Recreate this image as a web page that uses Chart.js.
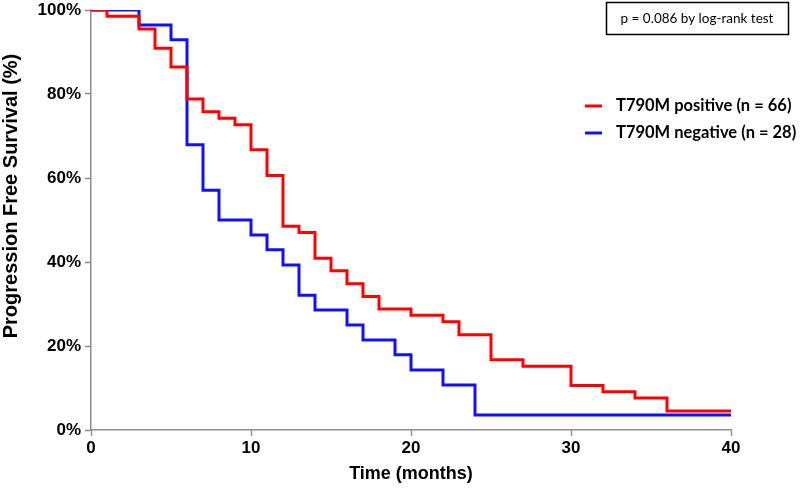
<!DOCTYPE html>
<html lang="en">
<head>
  <meta charset="UTF-8" />
  <title>Progression Free Survival</title>
  <script src="https://cdn.jsdelivr.net/npm/chart.js"></script>
  <style>
    html, body {
      margin: 0;
      padding: 0;
      background: #fff;
    }
    .chart-box {
      position: relative;
      width: 800px;
      height: 489px;
    }
  </style>
</head>
<body>
  <div class="chart-box">
    <canvas id="pfsChart"></canvas>
  </div>

  <script>
    // Kaplan-Meier steps (time in months, survival in %)
    const posTimes = [0, 1, 3, 4, 5, 6, 7, 8, 9, 10, 11, 12, 13, 14, 15, 16, 17, 18, 20, 22, 23, 25, 27, 30, 32, 34, 36, 40];
    const posSurvival = [100, 98.5, 95.5, 90.9, 86.4, 78.8, 75.8, 74.2, 72.7, 66.7, 60.6, 48.5, 47.0, 40.9, 37.9, 34.8, 31.8, 28.8, 27.3, 25.8, 22.7, 16.7, 15.2, 10.6, 9.1, 7.6, 4.5, 4.5];

    const negTimes = [0, 3, 5, 6, 7, 8, 10, 11, 12, 13, 14, 16, 17, 19, 20, 22, 24, 40];
    const negSurvival = [100, 96.4, 92.9, 67.9, 57.1, 50.0, 46.4, 42.9, 39.3, 32.1, 28.6, 25.0, 21.4, 17.9, 14.3, 10.7, 3.6, 3.6];

    const seriesLabels = ["T790M positive (n = 66)", "T790M negative (n = 28)"];
    const xTicks = [0, 10, 20, 30, 40];
    const yTicks = [0, 20, 40, 60, 80, 100];
    const pValueText = "p = 0.086 by log-rank test";

    const RED = "#ff0000";
    const BLUE = "#1010ff";
    const AXIS = "#8c8c8c";

    function toPoints(times, values) {
      return times.map((t, i) => ({ x: t, y: values[i] }));
    }

    // legend + p-value box drawn on the canvas
    const annotations = {
      id: "annotations",
      afterDraw(chart) {
        const ctx = chart.ctx;
        ctx.save();

        // p-value box
        ctx.strokeStyle = "#000";
        ctx.lineWidth = 1.5;
        ctx.strokeRect(606.5, 2.5, 182, 32);
        ctx.fillStyle = "#000";
        ctx.font = "13.5px Lato";
        ctx.textAlign = "center";
        ctx.textBaseline = "middle";
        ctx.fillText(pValueText, 697, 19);

        // legend
        const colors = [RED, BLUE];
        const rows = [106, 133];
        ctx.font = "bold 16.5px Lato";
        ctx.textAlign = "left";
        rows.forEach((y, i) => {
          ctx.strokeStyle = colors[i];
          ctx.lineWidth = 3;
          ctx.beginPath();
          ctx.moveTo(585, y);
          ctx.lineTo(602, y);
          ctx.stroke();
          ctx.fillStyle = "#000";
          ctx.fillText(seriesLabels[i], 616, y);
        });

        // y axis title
        ctx.translate(11, 196);
        ctx.rotate(-Math.PI / 2);
        ctx.font = "bold 20px 'Liberation Sans'";
        ctx.textAlign = "center";
        ctx.fillText("Progression Free Survival (%)", 0, 0);

        ctx.restore();
      }
    };

    new Chart(document.getElementById("pfsChart"), {
      type: "line",
      data: {
        datasets: [
          {
            label: seriesLabels[0],
            data: toPoints(posTimes, posSurvival),
            borderColor: RED,
            borderWidth: 3,
            stepped: "before",
            pointRadius: 0,
            fill: false,
          },
          {
            label: seriesLabels[1],
            data: toPoints(negTimes, negSurvival),
            borderColor: BLUE,
            borderWidth: 3,
            stepped: "before",
            pointRadius: 0,
            fill: false,
          },
        ],
      },
      options: {
        responsive: true,
        maintainAspectRatio: false,
        animation: false,
        layout: {
          padding: { top: 10, right: 69, left: 0, bottom: 0 },
        },
        plugins: {
          legend: { display: false },
          tooltip: { enabled: false },
        },
        scales: {
          x: {
            type: "linear",
            min: 0,
            max: 40,
            afterBuildTicks: (scale) => {
              scale.ticks = xTicks.map((v) => ({ value: v }));
            },
            afterFit: (scale) => {
              scale.height = 59;
              scale.paddingRight = 0;
            },
            border: { color: AXIS, width: 1.5 },
            grid: {
              drawOnChartArea: false,
              color: AXIS,
              tickLength: 6,
              tickWidth: 1.5,
            },
            ticks: {
              color: "#000",
              padding: 2,
              font: { family: "'Liberation Sans'", size: 17, weight: "bold" },
            },
            title: {
              display: true,
              text: "Time (months)",
              color: "#000",
              padding: { top: 15 },
              font: { family: "'Liberation Sans'", size: 18, weight: "bold" },
            },
          },
          y: {
            min: 0,
            max: 100,
            afterBuildTicks: (scale) => {
              scale.ticks = yTicks.map((v) => ({ value: v }));
            },
            afterFit: (scale) => {
              scale.width = 91;
              scale.paddingTop = 0;
            },
            border: { color: AXIS, width: 1.5 },
            grid: {
              drawOnChartArea: false,
              color: AXIS,
              tickLength: 6,
              tickWidth: 1.5,
            },
            ticks: {
              color: "#000",
              padding: 4,
              callback: (v) => v + "%",
              font: { family: "'Liberation Sans'", size: 17, weight: "bold" },
            },
          },
        },
      },
      plugins: [annotations],
    });
  </script>
</body>
</html>
